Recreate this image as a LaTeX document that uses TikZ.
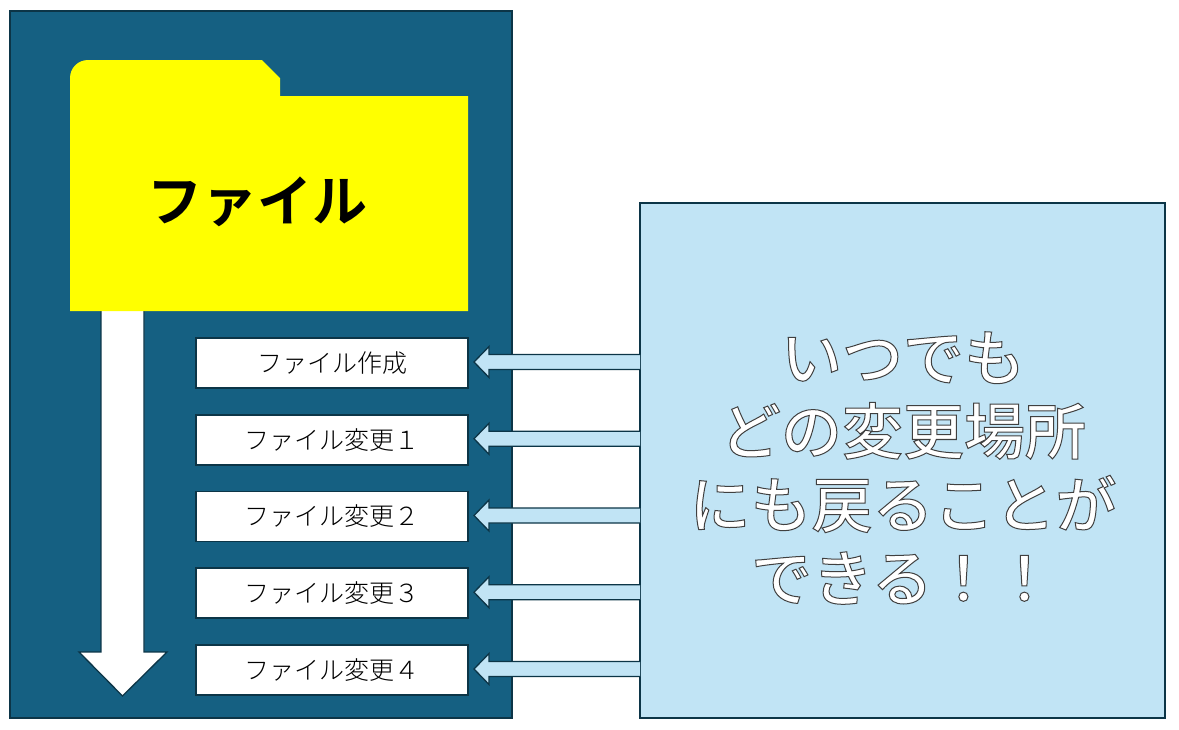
\documentclass[tikz,border=0pt]{standalone}
\usepackage{fontspec}
\usetikzlibrary{calc}
\setmainfont{Noto Sans CJK JP}
\newfontfamily\jpbold{Noto Sans CJK JP Bold}
\newfontfamily\jpmedium{Noto Sans CJK JP Medium}
\newfontfamily\jplight{Noto Sans CJK JP Light}
\definecolor{panelblue}{HTML}{156082}
\definecolor{edgeblue}{HTML}{0C3547}
\definecolor{noteblue}{HTML}{C1E4F5}
\definecolor{folderyellow}{rgb}{1,1,0}
\newcommand{\hollowtext}[1]{\special{pdf:code 2 Tr 1 w 0.25 G 1 g}#1\special{pdf:code 0 Tr}}

\begin{document}
\begin{tikzpicture}[x=1pt, y=-1pt,
    panelbox/.style={draw=edgeblue, line width=1.6pt, fill=panelblue, inner sep=0pt, outer sep=0pt, minimum width=502pt, minimum height=707pt},
    notebox/.style={draw=edgeblue, line width=1.6pt, fill=noteblue, inner sep=0pt, outer sep=0pt, minimum width=525pt, minimum height=515pt},
    stepbox/.style={draw=edgeblue, line width=1.6pt, fill=white, inner sep=0pt, outer sep=0pt, minimum width=272pt, minimum height=50pt, font=\jplight\fontsize{25}{25}\selectfont},
    blockarrow/.style={draw=edgeblue, line width=1.3pt, fill=noteblue, line join=miter}]
\useasboundingbox (0,0) rectangle (1179,729);

% Define a variable for spacing
\def\spacing{76.75}

% Background panel
\node[panelbox] (panel) at (261,364.5) {};

% Long white arrow
\draw[draw=edgeblue, line width=1.3pt, fill=white] (101,300) -- (144,300) -- (144,652) -- (167,652) -- (122.5,696) -- (79,652) -- (101,652) -- cycle;

% Folder
\fill[folderyellow] (70,311) -- (70,78) .. controls (70,68) and (78,60) .. (88,60) -- (262,60) -- (280,78) -- (280,96) -- (468,96) -- (468,311) -- cycle;
\node[font=\jpbold\fontsize{55}{55}\selectfont] (folder) at (257,202) {ファイル};

% History steps
\node[stepbox] (step0) at (332,363) {ファイル作成};
\node[stepbox] (step1) at (332,{363 + \spacing * 1}) {ファイル変更１};
\node[stepbox] (step2) at (332,{363 + \spacing * 2}) {ファイル変更２};
\node[stepbox] (step3) at (332,{363 + \spacing * 3}) {ファイル変更３};
\node[stepbox] (step4) at (332,{363 + \spacing * 4}) {ファイル変更４};

% Arrows from the note to each step
\node[notebox] (note) at (902.5,460.5) {};
\foreach \i in {0,...,4} {
    \coordinate (tip\i) at ($(step\i.east)+(6,-1)$);
    \coordinate (tail\i) at (note.west |- tip\i);
    \draw[blockarrow] (tail\i) ++(0,-7.5) -- ($(tip\i)+(15,-7.5)$) -- ($(tip\i)+(15,-15.5)$) -- (tip\i) -- ($(tip\i)+(15,15.5)$) -- ($(tip\i)+(15,7.5)$) -- ($(tail\i)+(0,7.5)$);
}

% Note text
\node[text=white, align=center, inner sep=0pt, font=\jpmedium\fontsize{61}{73.5}\selectfont] (notetext) at (903,468) {\hollowtext{いつでも}\\\hollowtext{どの変更場所}\\\hollowtext{にも戻ることが}\\\hollowtext{できる！！}};

\end{tikzpicture}
\end{document}
